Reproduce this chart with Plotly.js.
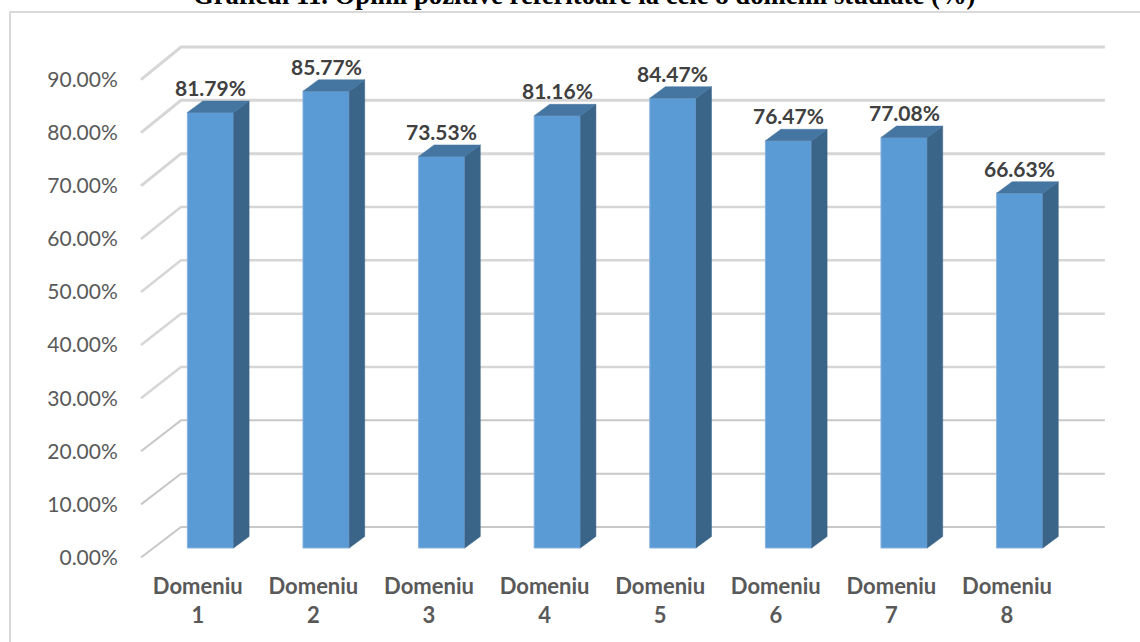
<!DOCTYPE html>
<html><head><meta charset="utf-8">
<script src="https://cdn.plot.ly/plotly-3.0.1.min.js"></script>
<style>html,body{margin:0;padding:0;background:#fff;overflow:hidden}</style>
</head><body><div id="chart" style="width:1140px;height:642px"></div>
<script>
const titleText = "Graficul 11. Opinii pozitive referitoare la cele 8 domenii studiate (%)";
const domainNames = ["Domeniu","Domeniu","Domeniu","Domeniu","Domeniu","Domeniu","Domeniu","Domeniu"];
const domainNumbers = ["1","2","3","4","5","6","7","8"];
const domainIndex = [1,2,3,4,5,6,7,8];
const values = [81.79,85.77,73.53,81.16,84.47,76.47,77.08,66.63];
const gridLevels = [0,10,20,30,40,50,60,70,80,90];
const gridLabels = ["0.00%","10.00%","20.00%","30.00%","40.00%","50.00%","60.00%","70.00%","80.00%","90.00%"];

// layout constants (pseudo-3D projection, in axis units)
const W=1140,H=642,ML=125,MB=78;
const barW=0.4, depthX=0.134, depthY=2.16;
const frontDrop=5.72, frontScale=0.9957, floorLeft=0.3988, wallLeft=0.7448, wallRight=8.737;
const labelShift=0.11;
const FONT='Lato, Carlito, Calibri, sans-serif';
const frontPos=v=>v*frontScale-frontDrop;

const traces=[];
// back wall gridlines with the floor diagonal
gridLevels.forEach(v=>{
  traces.push({type:'scatter',mode:'lines',x:[floorLeft,wallLeft,wallRight],y:[frontPos(v),v,v],
    xaxis:'x',yaxis:'y',line:{color:v<25?'#c8c8c8':'#d6d6d6',width:v<25?2:(v>65?3:2.5)},hoverinfo:'skip',showlegend:false});
});
// carrier for the second row of category labels
traces.push({type:'scatter',mode:'markers',x:domainIndex,y:values,xaxis:'x2',yaxis:'y',
  marker:{opacity:0,size:1},hoverinfo:'skip',showlegend:false});
// front faces
traces.push({type:'bar',x:domainIndex,y:values,width:barW,xaxis:'x',yaxis:'y2',
  marker:{color:'#5B9BD5',line:{color:'#86b1dd',width:1}},showlegend:false});
// side and top faces
values.forEach((v,k)=>{
  const i=domainIndex[k], l=i-barW/2, r=i+barW/2;
  traces.push({type:'scatter',mode:'lines',fill:'toself',fillcolor:'#3A6488',line:{color:'#3A6488',width:0.5},
    x:[r,r+depthX,r+depthX,r,r],y:[0,depthY,v+depthY,v,0],xaxis:'x',yaxis:'y2',hoverinfo:'skip',showlegend:false});
  traces.push({type:'scatter',mode:'lines',fill:'toself',fillcolor:'#4575A1',line:{color:'#4575A1',width:0.5},
    x:[l,r,r+depthX,l+depthX,l],y:[v,v,v+depthY,v+depthY,v],xaxis:'x',yaxis:'y2',hoverinfo:'skip',showlegend:false});
});

const xRange=[1-(210.5-ML)/115.6, 1+(W-210.5)/115.6];
const plotH=H-MB;
const hidden='rgba(0,0,0,0)';
const layout={
  width:W,height:H,paper_bgcolor:'#fff',plot_bgcolor:'rgba(0,0,0,0)',showlegend:false,
  margin:{l:ML,r:0,t:0,b:MB,pad:0},
  font:{family:FONT,color:'#595959'},
  title:{text:'<b>'+titleText+'</b>',font:{family:'"Liberation Serif",serif',size:26.7,color:'#000'},
    x:0.5125,xanchor:'center',xref:'container',y:0.994,yanchor:'bottom',yref:'container'},
  xaxis:{type:'linear',range:xRange,showgrid:false,zeroline:false,showline:false,
    tickmode:'array',tickvals:domainIndex.map(i=>i-labelShift),ticktext:domainNames,
    ticks:'outside',ticklen:3,tickcolor:hidden,tickfont:{family:FONT,size:22,color:'#595959',weight:700}},
  xaxis2:{type:'linear',range:xRange,overlaying:'x',anchor:'y',side:'bottom',showgrid:false,zeroline:false,showline:false,
    tickmode:'array',tickvals:domainIndex.map(i=>i-labelShift),ticktext:domainNumbers,
    ticks:'outside',ticklen:32,tickcolor:hidden,tickfont:{family:FONT,size:22,color:'#595959',weight:700}},
  yaxis:{type:'linear',range:[(527-plotH)/5.333,527/5.333],showgrid:false,zeroline:false,showline:false,
    tickmode:'array',tickvals:gridLevels.map(frontPos),ticktext:gridLabels,
    ticks:'outside',ticklen:2,tickcolor:hidden,tickfont:{family:FONT,size:21,color:'#595959'}},
  yaxis2:{type:'linear',range:[(548-plotH)/5.325,548/5.325],overlaying:'y',side:'left',
    showgrid:false,zeroline:false,showline:false,showticklabels:false,ticks:''},
  annotations:values.map((v,k)=>({x:domainIndex[k],y:v,xref:'x',yref:'y2',text:'<b>'+v.toFixed(2)+'%</b>',
    showarrow:false,yshift:25,xanchor:'center',yanchor:'middle',font:{family:FONT,size:21,color:'#404040'}})),
  shapes:[{type:'rect',xref:'paper',yref:'paper',
    x0:(10-ML)/(W-ML),x1:(W+20-ML)/(W-ML),y0:(plotH-(H+20))/plotH,y1:(plotH-12)/plotH,
    line:{color:'#d9d9d9',width:2},fillcolor:'rgba(0,0,0,0)',layer:'below'}]
};
Plotly.newPlot('chart',traces,layout,{displayModeBar:false,staticPlot:true});
</script></body></html>
